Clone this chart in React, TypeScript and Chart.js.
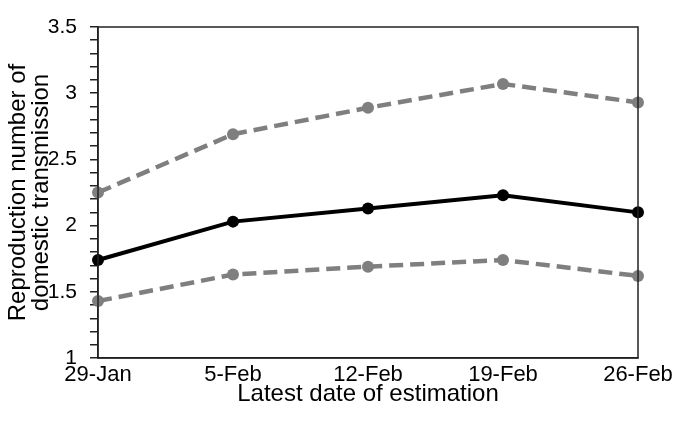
import React, { useEffect, useRef } from "react";
import { Chart, registerables } from "chart.js";

Chart.register(...registerables);

const categories = ["29-Jan", "5-Feb", "12-Feb", "19-Feb", "26-Feb"];
const estimate = [1.74, 2.03, 2.13, 2.23, 2.1];
const upper = [2.25, 2.69, 2.89, 3.07, 2.93];
const lower = [1.43, 1.63, 1.69, 1.74, 1.62];
const yTitle = ["Reproduction number of", "domestic transmission"];
const xTitle = "Latest date of estimation";

const FONT = "'Liberation Sans', Arial, sans-serif";

const boxPlugin = {
  id: "box",
  afterDatasetsDraw(chart: any) {
    const { ctx, chartArea } = chart;
    ctx.save();
    ctx.strokeStyle = "#222";
    ctx.lineWidth = 1.5;
    ctx.strokeRect(chartArea.left, chartArea.top, chartArea.right - chartArea.left, chartArea.bottom - chartArea.top);
    ctx.restore();
  },
};

export default function App() {
  const ref = useRef<HTMLCanvasElement>(null);
  useEffect(() => {
    if (!ref.current) return;
    const dashed = {
      borderColor: "#7f7f7f",
      backgroundColor: "#7f7f7f",
      borderWidth: 4.5,
      borderDash: [14, 7],
      pointRadius: 6,
      pointBorderWidth: 0,
      tension: 0,
    };
    const chart = new Chart(ref.current, {
      type: "line",
      data: {
        labels: categories,
        datasets: [
          { label: "Upper", data: upper, ...dashed },
          { label: "Lower", data: lower, ...dashed },
          {
            label: "Estimate",
            data: estimate,
            borderColor: "#000",
            backgroundColor: "#000",
            borderWidth: 4,
            pointRadius: 6,
            pointBorderWidth: 0,
            tension: 0,
          },
        ],
      },
      options: {
        animation: false,
        responsive: false,
        devicePixelRatio: 1,
        layout: { padding: { left: 0, right: 45, top: 27, bottom: 0 } },
        plugins: { legend: { display: false }, tooltip: { enabled: false } },
        scales: {
          x: {
            offset: false,
            afterFit(scale: any) {
              scale.height = 63;
            },
            grid: { display: false, drawTicks: true, tickLength: 10, color: "#222", lineWidth: 1.5 },
            border: { display: true, color: "#222", width: 1.5 },
            ticks: {
              color: "#000",
              font: { family: FONT, size: 22 },
              padding: -6,
              maxRotation: 0,
              autoSkip: false,
            },
            title: {
              display: true,
              text: xTitle,
              color: "#000",
              font: { family: FONT, size: 24, lineHeight: 1.2 },
              padding: { top: 0, bottom: 12 },
            },
          },
          y: {
            min: 1,
            max: 3.5,
            afterFit(scale: any) {
              scale.width = 98;
            },
            afterBuildTicks(scale: any) {
              const t = [];
              for (let i = 10; i <= 35; i++) t.push({ value: i / 10 });
              scale.ticks = t;
            },
            grid: { display: true, drawOnChartArea: false, drawTicks: true, tickLength: 8, color: "#222", lineWidth: 1.5 },
            border: { display: true, color: "#222", width: 1.5 },
            ticks: {
              color: "#000",
              font: { family: FONT, size: 21 },
              padding: 13,
              autoSkip: false,
              callback(v: any) {
                const n = Number(v);
                const d = n * 2;
                if (Math.abs(d - Math.round(d)) < 1e-6) return String(Math.round(n * 10) / 10);
                return "";
              },
            },
            title: {
              display: true,
              text: yTitle,
              color: "#000",
              font: { family: FONT, size: 24, lineHeight: 0.95 },
              padding: { top: 7, bottom: 0 },
            },
          },
        },
      },
      plugins: [boxPlugin],
    });
    return () => chart.destroy();
  }, []);
  return (
    <div style={{ position: "fixed", left: 0, top: 0, width: 683, height: 421, background: "#fff" }}>
      <canvas ref={ref} width={683} height={421} style={{ width: 683, height: 421 }} />
    </div>
  );
}
